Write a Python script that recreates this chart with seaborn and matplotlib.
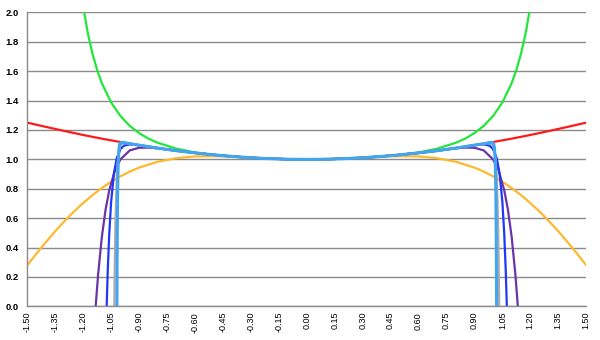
import matplotlib
matplotlib.use("Agg")
import matplotlib.pyplot as plt
import seaborn as sns
import pandas as pd

# ---- data ----
red_x = [-1.5, -1.4, -1.3, -1.2, -1.1, -1.0, -0.9, -0.8, -0.7, -0.6, -0.5, -0.4, -0.3, -0.2, -0.1, 0.0,
         0.1, 0.2, 0.3, 0.4, 0.5, 0.6, 0.7, 0.8, 0.9, 1.0, 1.1, 1.2, 1.3, 1.4, 1.5]
red_y = [1.250, 1.221, 1.193, 1.166, 1.141, 1.118, 1.097, 1.077, 1.059, 1.044, 1.031, 1.020, 1.011, 1.005, 1.001, 1.000,
         1.001, 1.005, 1.011, 1.020, 1.031, 1.044, 1.059, 1.077, 1.097, 1.118, 1.141, 1.166, 1.193, 1.221, 1.250]

green_x = [-1.25, -1.225, -1.2, -1.175, -1.15, -1.125, -1.1, -1.05, -1.0, -0.95, -0.9, -0.85, -0.8, -0.7, -0.6,
           -0.5, -0.4, -0.3, -0.2, -0.1, 0.0, 0.1, 0.2, 0.3, 0.4, 0.5, 0.6, 0.7, 0.8, 0.85, 0.9, 0.95, 1.0,
           1.05, 1.1, 1.125, 1.15, 1.175, 1.2, 1.225, 1.25]
green_y = [2.640, 2.289, 2.041, 1.858, 1.718, 1.608, 1.519, 1.387, 1.295, 1.228, 1.179, 1.141, 1.113, 1.073, 1.047,
           1.030, 1.018, 1.010, 1.004, 1.001, 1.000, 1.001, 1.004, 1.010, 1.018, 1.030, 1.047, 1.073, 1.113, 1.141,
           1.179, 1.228, 1.295, 1.387, 1.519, 1.608, 1.718, 1.858, 2.041, 2.289, 2.640]

yellow_x = [-1.5, -1.45, -1.4, -1.35, -1.3, -1.25, -1.2, -1.15, -1.1, -1.05, -1.0, -0.95, -0.9, -0.8, -0.7,
            -0.6, -0.5, -0.4, -0.3, -0.2, -0.1, 0.0, 0.1, 0.2, 0.3, 0.4, 0.5, 0.6, 0.7, 0.8, 0.9, 0.95,
            1.0, 1.05, 1.1, 1.15, 1.2, 1.25, 1.3, 1.35, 1.4, 1.45, 1.5]
yellow_y = [0.280, 0.360, 0.437, 0.511, 0.580, 0.644, 0.703, 0.757, 0.805, 0.848, 0.885, 0.917, 0.944, 0.984, 1.008,
            1.020, 1.022, 1.019, 1.013, 1.006, 1.002, 1.000, 1.002, 1.006, 1.013, 1.019, 1.022, 1.020, 1.008, 0.984,
            0.944, 0.917, 0.885, 0.848, 0.805, 0.757, 0.703, 0.644, 0.580, 0.511, 0.437, 0.360, 0.280]

purple_x = [-1.133, -1.12, -1.10, -1.08, -1.06, -1.03, -1.0, -0.95, -0.9, -0.85, -0.8, -0.7, -0.6, -0.5, -0.4,
            -0.3, -0.2, -0.1, 0.0, 0.1, 0.2, 0.3, 0.4, 0.5, 0.6, 0.7, 0.8, 0.85, 0.9, 0.95, 1.0, 1.03, 1.06,
            1.08, 1.10, 1.12, 1.133]
purple_y = [0.000, 0.215, 0.471, 0.657, 0.790, 0.923, 1.000, 1.061, 1.079, 1.080, 1.075, 1.059, 1.044, 1.031, 1.020,
            1.011, 1.005, 1.001, 1.000, 1.001, 1.005, 1.011, 1.020, 1.031, 1.044, 1.059, 1.075, 1.080, 1.079, 1.061,
            1.000, 0.923, 0.790, 0.657, 0.471, 0.215, 0.000]

blue_x = [-1.074, -1.068, -1.06, -1.05, -1.035, -1.02, -1.0, -0.98, -0.95, -0.9, -0.8, -0.7, -0.6, -0.5, -0.4,
          -0.3, -0.2, -0.1, 0.0, 0.1, 0.2, 0.3, 0.4, 0.5, 0.6, 0.7, 0.8, 0.9, 0.95, 0.98, 1.0, 1.02, 1.035,
          1.05, 1.06, 1.068, 1.074]
blue_y = [0.000, 0.248, 0.496, 0.712, 0.905, 1.007, 1.070, 1.094, 1.102, 1.096, 1.077, 1.059, 1.044, 1.031, 1.020,
          1.011, 1.005, 1.001, 1.000, 1.001, 1.005, 1.011, 1.020, 1.031, 1.044, 1.059, 1.077, 1.096, 1.102, 1.094,
          1.070, 1.007, 0.905, 0.712, 0.496, 0.248, 0.000]

gray_x = [-1.033, -1.031, -1.027, -1.02, -1.01, -1.0, -0.98, -0.95, -0.9, -0.8, -0.7, -0.6, -0.5, -0.4, -0.3,
          -0.2, -0.1, 0.0, 0.1, 0.2, 0.3, 0.4, 0.5, 0.6, 0.7, 0.8, 0.9, 0.95, 0.98, 1.0, 1.01, 1.02, 1.027,
          1.031, 1.033]
gray_y = [0.000, 0.233, 0.565, 0.877, 1.045, 1.095, 1.112, 1.107, 1.097, 1.077, 1.059, 1.044, 1.031, 1.020, 1.011,
          1.005, 1.001, 1.000, 1.001, 1.005, 1.011, 1.020, 1.031, 1.044, 1.059, 1.077, 1.097, 1.107, 1.112, 1.095,
          1.045, 0.877, 0.565, 0.233, 0.000]

lblue_x = [-1.019, -1.018, -1.017, -1.015, -1.012, -1.008, -1.003, -0.995, -0.98, -0.96, -0.9, -0.8, -0.7, -0.6,
           -0.5, -0.4, -0.3, -0.2, -0.1, 0.0, 0.1, 0.2, 0.3, 0.4, 0.5, 0.6, 0.7, 0.8, 0.9, 0.96, 0.98, 0.995,
           1.003, 1.008, 1.012, 1.015, 1.017, 1.018, 1.019]
lblue_y = [0.000, 0.286, 0.500, 0.777, 0.979, 1.077, 1.109, 1.116, 1.114, 1.109, 1.097, 1.077, 1.059, 1.044,
           1.031, 1.020, 1.011, 1.005, 1.001, 1.000, 1.001, 1.005, 1.011, 1.020, 1.031, 1.044, 1.059, 1.077, 1.097,
           1.109, 1.114, 1.116, 1.109, 1.077, 0.979, 0.777, 0.500, 0.286, 0.000]

x_ticks = [-1.50, -1.35, -1.20, -1.05, -0.90, -0.75, -0.60, -0.45, -0.30, -0.15, 0.00,
           0.15, 0.30, 0.45, 0.60, 0.75, 0.90, 1.05, 1.20, 1.35, 1.50]
x_tick_labels = ["-1.50", "-1.35", "-1.20", "-1.05", "-0.90", "-0.75", "-0.60", "-0.45", "-0.30", "-0.15", "0.00",
                 "0.15", "0.30", "0.45", "0.60", "0.75", "0.90", "1.05", "1.20", "1.35", "1.50"]
y_ticks = [0.0, 0.2, 0.4, 0.6, 0.8, 1.0, 1.2, 1.4, 1.6, 1.8, 2.0]
y_tick_labels = ["0.0", "0.2", "0.4", "0.6", "0.8", "1.0", "1.2", "1.4", "1.6", "1.8", "2.0"]

series = [
    (red_x, red_y, "#FF1A1A", 1.6),
    (green_x, green_y, "#22E63A", 1.6),
    (yellow_x, yellow_y, "#FDB92E", 1.6),
    (purple_x, purple_y, "#6A35A8", 1.6),
    (blue_x, blue_y, "#2038F5", 1.6),
    (gray_x, gray_y, "#ABABAB", 1.6),
    (lblue_x, lblue_y, "#42A6EE", 2.2),
]

sns.set_style("white")
plt.rcParams["font.family"] = ["Liberation Sans", "DejaVu Sans"]

fig = plt.figure(figsize=(6.0, 3.4), dpi=100)
ax = fig.add_axes([0.0455, 0.099, 0.9315, 0.8645])

for xs, ys, col, lw in series:
    df = pd.DataFrame({"x": xs, "y": ys})
    sns.lineplot(data=df, x="x", y="y", ax=ax, color=col, linewidth=lw,
                 sort=False, estimator=None, solid_joinstyle="round")

ax.set_xlim(-1.5, 1.5)
ax.set_ylim(0.0, 2.0)
ax.set_xticks(x_ticks)
ax.set_xticklabels(x_tick_labels, rotation=90, fontsize=6.5)
ax.set_yticks(y_ticks)
ax.set_yticklabels(y_tick_labels, fontsize=6.8, fontweight="bold")
ax.tick_params(axis="both", length=0, colors="black")
ax.tick_params(axis="x", pad=4)
ax.tick_params(axis="y", pad=6)
ax.set_xlabel("")
ax.set_ylabel("")

ax.yaxis.grid(True, color="#8A8A8A", linewidth=1.0)
ax.xaxis.grid(False)
ax.set_axisbelow(True)
for side in ["top", "right"]:
    ax.spines[side].set_visible(False)
for side in ["left", "bottom"]:
    ax.spines[side].set_visible(True)
    ax.spines[side].set_color("#8A8A8A")
    ax.spines[side].set_linewidth(1.0)

fig.savefig("out.png", dpi=100)
